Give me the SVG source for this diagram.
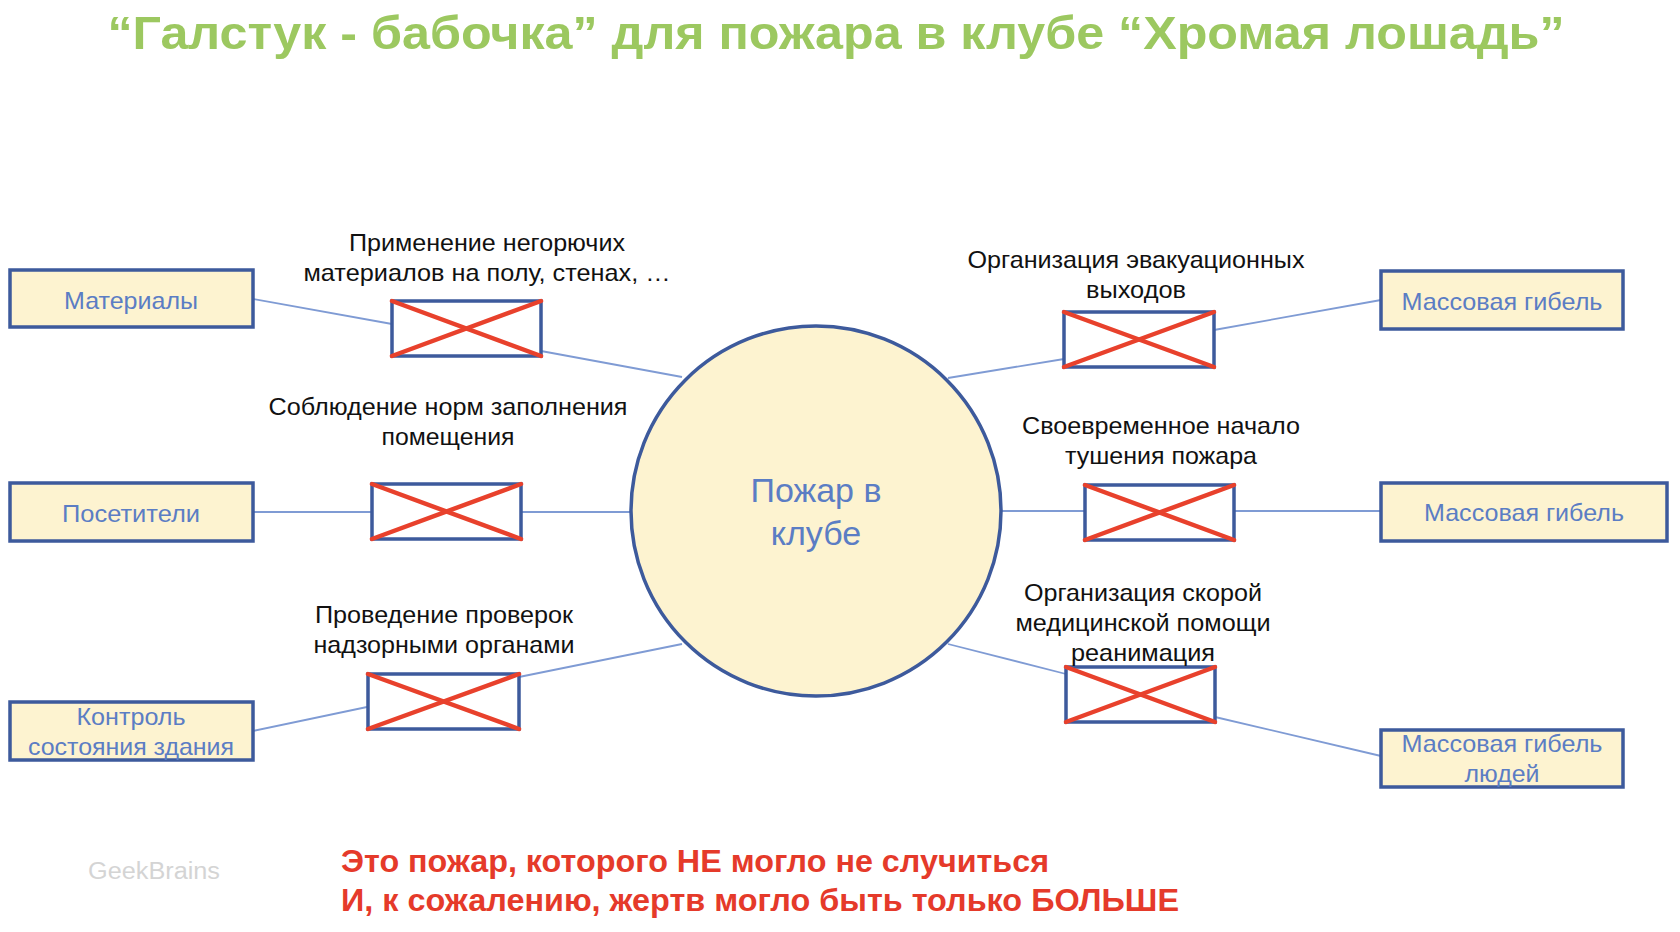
<svg xmlns="http://www.w3.org/2000/svg" width="1680" height="932" viewBox="0 0 1680 932">
<style>
.title{font-family:"Liberation Sans",Arial,sans-serif;font-weight:bold;font-size:46px;fill:#9CC860;text-anchor:middle}
.box{fill:#FDF3D0;stroke:#3D5A9C;stroke-width:3.5}
.btxt{font-family:"Liberation Sans",Arial,sans-serif;font-size:24px;fill:#5B7DC4;text-anchor:middle}
.lbl{font-family:"Liberation Sans",Arial,sans-serif;font-size:24px;fill:#111;text-anchor:middle}
.barrier rect{fill:#fff;stroke:#3D5A9C;stroke-width:3.5}
.barrier line{stroke:#E8412C;stroke-width:4.5;stroke-linecap:round}
.conn line{stroke:#7F9BD4;stroke-width:1.8}
.ctxt{font-family:"Liberation Sans",Arial,sans-serif;font-size:34px;fill:#5B7DC4;text-anchor:middle}
.red{font-family:"Liberation Sans",Arial,sans-serif;font-weight:bold;font-size:31px;fill:#E53A2A}
.wm{font-family:"Liberation Sans",Arial,sans-serif;font-size:23px;fill:#D4D4D4}
</style>
<rect width="1680" height="932" fill="#fff"/>
<text class="title" x="836" y="49" textLength="1457" lengthAdjust="spacingAndGlyphs">“Галстук - бабочка” для пожара в клубе “Хромая лошадь”</text>

<g id="connectors" class="conn">
<line x1="253" y1="299" x2="392" y2="324"/>
<line x1="541" y1="351" x2="682" y2="377"/>
<line x1="253" y1="512" x2="372" y2="512"/>
<line x1="521" y1="512" x2="631" y2="512"/>
<line x1="253" y1="731" x2="367" y2="707"/>
<line x1="519" y1="677" x2="682" y2="644"/>
<line x1="948" y1="378" x2="1064" y2="359"/>
<line x1="1214" y1="330" x2="1381" y2="300"/>
<line x1="1001" y1="511" x2="1085" y2="511"/>
<line x1="1234" y1="511" x2="1381" y2="511"/>
<line x1="948" y1="644" x2="1066" y2="674"/>
<line x1="1215" y1="717" x2="1381" y2="756"/>
</g>

<g id="event">
<circle cx="816" cy="511" r="185" fill="#FDF3D0" stroke="#3D5A9C" stroke-width="3.5"/>
<text class="ctxt" x="816" y="502">Пожар в</text>
<text class="ctxt" x="816" y="545">клубе</text>
</g>

<g id="cause-materials">
<rect class="box" x="10" y="270" width="243" height="57"/>
<text class="btxt" x="131" y="309" textLength="134" lengthAdjust="spacingAndGlyphs">Материалы</text>
</g>
<g id="cause-visitors">
<rect class="box" x="10" y="483" width="243" height="58"/>
<text class="btxt" x="131" y="522" textLength="138" lengthAdjust="spacingAndGlyphs">Посетители</text>
</g>
<g id="cause-building">
<rect class="box" x="10" y="702" width="243" height="58"/>
<text class="btxt" x="131" y="725" textLength="109" lengthAdjust="spacingAndGlyphs">Контроль</text>
<text class="btxt" x="131" y="755" textLength="206" lengthAdjust="spacingAndGlyphs">состояния здания</text>
</g>

<g id="conseq-1">
<rect class="box" x="1381" y="271" width="242" height="58"/>
<text class="btxt" x="1502" y="310" textLength="201" lengthAdjust="spacingAndGlyphs">Массовая гибель</text>
</g>
<g id="conseq-2">
<rect class="box" x="1381" y="483" width="286" height="58"/>
<text class="btxt" x="1524" y="521" textLength="200" lengthAdjust="spacingAndGlyphs">Массовая гибель</text>
</g>
<g id="conseq-3">
<rect class="box" x="1381" y="730" width="242" height="57"/>
<text class="btxt" x="1502" y="752" textLength="201" lengthAdjust="spacingAndGlyphs">Массовая гибель</text>
<text class="btxt" x="1502" y="782" textLength="75" lengthAdjust="spacingAndGlyphs">людей</text>
</g>

<g id="barrier-l1" class="barrier">
<rect x="392" y="301" width="149" height="55"/>
<line x1="392" y1="301" x2="541" y2="356"/><line x1="392" y1="356" x2="541" y2="301"/>
<text class="lbl" x="487" y="251" textLength="276" lengthAdjust="spacingAndGlyphs">Применение негорючих</text>
<text class="lbl" x="487" y="281" textLength="367" lengthAdjust="spacingAndGlyphs">материалов на полу, стенах, …</text>
</g>
<g id="barrier-l2" class="barrier">
<rect x="372" y="484" width="149" height="55"/>
<line x1="372" y1="484" x2="521" y2="539"/><line x1="372" y1="539" x2="521" y2="484"/>
<text class="lbl" x="448" y="415" textLength="359" lengthAdjust="spacingAndGlyphs">Соблюдение норм заполнения</text>
<text class="lbl" x="448" y="445" textLength="133" lengthAdjust="spacingAndGlyphs">помещения</text>
</g>
<g id="barrier-l3" class="barrier">
<rect x="368" y="674" width="151" height="55"/>
<line x1="368" y1="674" x2="519" y2="729"/><line x1="368" y1="729" x2="519" y2="674"/>
<text class="lbl" x="444" y="623" textLength="258" lengthAdjust="spacingAndGlyphs">Проведение проверок</text>
<text class="lbl" x="444" y="653" textLength="261" lengthAdjust="spacingAndGlyphs">надзорными органами</text>
</g>
<g id="barrier-r1" class="barrier">
<rect x="1064" y="312" width="150" height="55"/>
<line x1="1064" y1="312" x2="1214" y2="367"/><line x1="1064" y1="367" x2="1214" y2="312"/>
<text class="lbl" x="1136" y="268" textLength="337" lengthAdjust="spacingAndGlyphs">Организация эвакуационных</text>
<text class="lbl" x="1136" y="298" textLength="100" lengthAdjust="spacingAndGlyphs">выходов</text>
</g>
<g id="barrier-r2" class="barrier">
<rect x="1085" y="485" width="149" height="55"/>
<line x1="1085" y1="485" x2="1234" y2="540"/><line x1="1085" y1="540" x2="1234" y2="485"/>
<text class="lbl" x="1161" y="434" textLength="278" lengthAdjust="spacingAndGlyphs">Своевременное начало</text>
<text class="lbl" x="1161" y="464" textLength="192" lengthAdjust="spacingAndGlyphs">тушения пожара</text>
</g>
<g id="barrier-r3" class="barrier">
<rect x="1066" y="667" width="149" height="55"/>
<line x1="1066" y1="667" x2="1215" y2="722"/><line x1="1066" y1="722" x2="1215" y2="667"/>
<text class="lbl" x="1143" y="601" textLength="238" lengthAdjust="spacingAndGlyphs">Организация скорой</text>
<text class="lbl" x="1143" y="631" textLength="255" lengthAdjust="spacingAndGlyphs">медицинской помощи</text>
<text class="lbl" x="1143" y="661" textLength="144" lengthAdjust="spacingAndGlyphs">реанимация</text>
</g>

<text class="wm" x="88" y="879" textLength="132" lengthAdjust="spacingAndGlyphs">GeekBrains</text>
<text class="red" x="341" y="872" textLength="708" lengthAdjust="spacingAndGlyphs">Это пожар, которого НЕ могло не случиться</text>
<text class="red" x="341" y="911" textLength="838" lengthAdjust="spacingAndGlyphs">И, к сожалению, жертв могло быть только БОЛЬШЕ</text>
</svg>
